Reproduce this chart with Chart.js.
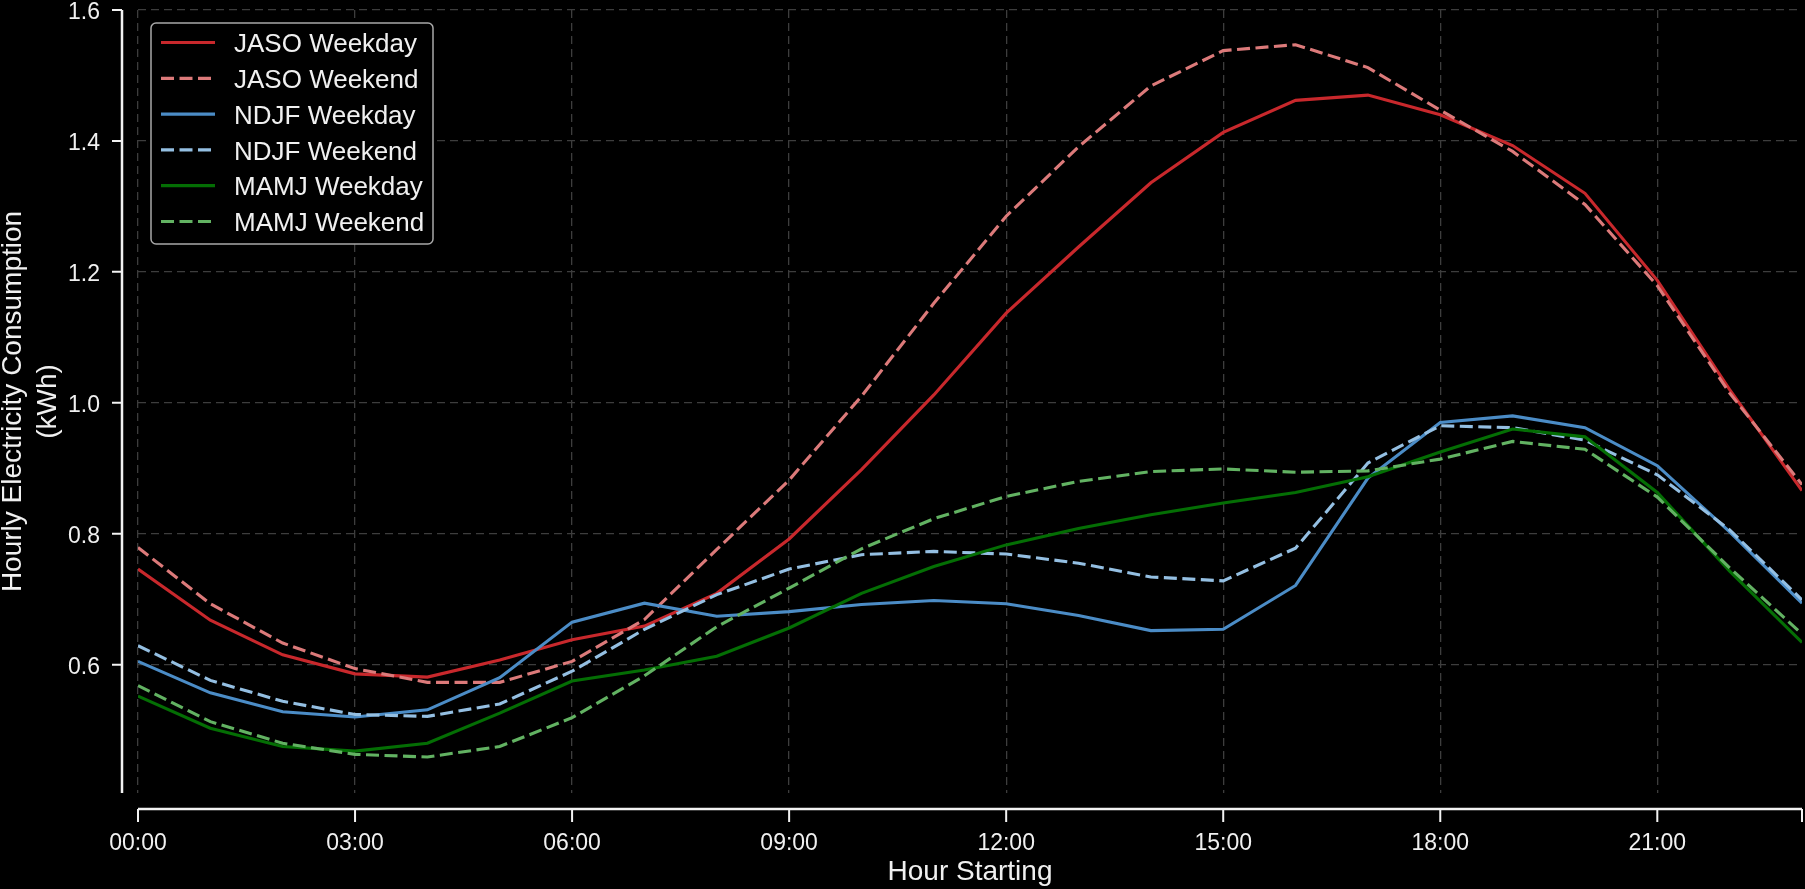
<!DOCTYPE html>
<html>
<head>
<meta charset="utf-8">
<script src="https://cdn.jsdelivr.net/npm/chart.js@4.4.1/dist/chart.umd.min.js"></script>
<style>
  html, body { margin: 0; padding: 0; background: #000; }
  #wrap { width: 1805px; height: 889px; position: relative; }
</style>
</head>
<body>
<div id="wrap"><canvas id="load"></canvas></div>
<script>
// hour of day (x values)
const hours = [0, 1, 2, 3, 4, 5, 6, 7, 8, 9, 10, 11, 12, 13, 14, 15, 16, 17, 18, 19, 20, 21, 22, 23];
const hourTicks = [0, 3, 6, 9, 12, 15, 18, 21];
const kwhTicks = [0.6, 0.8, 1.0, 1.2, 1.4, 1.6];

const seriesNames = ['JASO Weekday', 'JASO Weekend', 'NDJF Weekday', 'NDJF Weekend', 'MAMJ Weekday', 'MAMJ Weekend'];

const jasoWeekday = [0.746, 0.668, 0.615, 0.586, 0.581, 0.607, 0.638, 0.659, 0.709, 0.792, 0.898, 1.012,
                     1.137, 1.238, 1.336, 1.413, 1.462, 1.470, 1.440, 1.393, 1.320, 1.187, 1.020, 0.866];
const jasoWeekend = [0.779, 0.693, 0.633, 0.594, 0.573, 0.573, 0.605, 0.669, 0.776, 0.882, 1.010, 1.152,
                     1.285, 1.391, 1.484, 1.538, 1.547, 1.512, 1.447, 1.384, 1.303, 1.179, 1.015, 0.875];
const ndjfWeekday = [0.605, 0.557, 0.528, 0.520, 0.531, 0.580, 0.665, 0.694, 0.674, 0.681, 0.692, 0.698,
                     0.693, 0.675, 0.652, 0.654, 0.721, 0.885, 0.970, 0.980, 0.962, 0.904, 0.803, 0.694];
const ndjfWeekend = [0.629, 0.576, 0.544, 0.524, 0.521, 0.540, 0.590, 0.654, 0.707, 0.746, 0.768, 0.773,
                     0.769, 0.755, 0.734, 0.728, 0.778, 0.908, 0.965, 0.962, 0.943, 0.890, 0.806, 0.699];
const mamjWeekday = [0.552, 0.503, 0.475, 0.468, 0.480, 0.526, 0.575, 0.592, 0.613, 0.656, 0.709, 0.750,
                     0.783, 0.808, 0.829, 0.847, 0.863, 0.887, 0.925, 0.960, 0.948, 0.863, 0.743, 0.634];
const mamjWeekend = [0.568, 0.513, 0.480, 0.463, 0.459, 0.475, 0.519, 0.583, 0.658, 0.717, 0.777, 0.823,
                     0.857, 0.880, 0.895, 0.899, 0.894, 0.896, 0.914, 0.941, 0.929, 0.856, 0.748, 0.647];

const FONT = "'Liberation Sans', Arial, sans-serif";
const DASH = [13, 5.5];

function makeSet(i, values, color, dashed){
    return {
        label: seriesNames[i],
        data: values,
        borderColor: color,
        backgroundColor: color,
        borderWidth: 3.1,
        borderDash: dashed ? DASH : [],
        borderCapStyle: 'butt',
        pointRadius: 0,
        tension: 0,
        fill: false,
        order: 5 - i
    };
}

// offset spines + tick marks, drawn like a despined axes
const spines = {
    id: 'spines',
    afterDraw(chart){
        const {ctx, chartArea: a, scales} = chart;
        const off = 16;
        ctx.save();
        ctx.strokeStyle = '#f2f2f2';
        ctx.lineWidth = 2.5;
        ctx.lineCap = 'butt';
        ctx.beginPath();
        ctx.moveTo(a.left - off, a.top);
        ctx.lineTo(a.left - off, a.bottom);
        ctx.moveTo(a.left, a.bottom + off);
        ctx.lineTo(a.right, a.bottom + off);
        ctx.stroke();
        ctx.lineWidth = 2;
        ctx.beginPath();
        kwhTicks.forEach(v => {
            const py = scales.y.getPixelForValue(v);
            ctx.moveTo(a.left - off, py);
            ctx.lineTo(a.left - off - 10, py);
        });
        hourTicks.concat([23]).forEach(v => {
            const px = scales.x.getPixelForValue(v);
            ctx.moveTo(px, a.bottom + off);
            ctx.lineTo(px, a.bottom + off + 13);
        });
        ctx.stroke();
        ctx.restore();
    }
};

// legend box in the upper-left corner of the plot
const boxLegend = {
    id: 'boxLegend',
    afterDraw(chart){
        const ctx = chart.ctx;
        const bx = 151, by = 23, bw = 282, bh = 221;
        ctx.save();
        ctx.fillStyle = '#000';
        ctx.strokeStyle = '#a8a8a8';
        ctx.lineWidth = 1.5;
        ctx.beginPath();
        ctx.roundRect(bx, by, bw, bh, 5);
        ctx.fill();
        ctx.stroke();
        ctx.font = '26px ' + FONT;
        ctx.textBaseline = 'middle';
        ctx.fillStyle = '#f0f0f0';
        chart.data.datasets.forEach((ds, i) => {
            const ry = 42.5 + i * 35.8;
            ctx.strokeStyle = ds.borderColor;
            ctx.lineWidth = 3.2;
            ctx.setLineDash(ds.borderDash);
            ctx.beginPath();
            ctx.moveTo(161, ry);
            ctx.lineTo(215, ry);
            ctx.stroke();
            ctx.setLineDash([]);
            ctx.fillText(ds.label, 234, ry + 2.5);
        });
        ctx.restore();
    }
};

new Chart(document.querySelector('#load'), {
    type: 'line',
    data: {
        labels: hours,
        datasets: [
            makeSet(0, jasoWeekday, '#c8282c', false),
            makeSet(1, jasoWeekend, '#dc7a7a', true),
            makeSet(2, ndjfWeekday, '#4b8cc6', false),
            makeSet(3, ndjfWeekend, '#94bfe2', true),
            makeSet(4, mamjWeekday, '#046e04', false),
            makeSet(5, mamjWeekend, '#62b262', true)
        ]
    },
    options: {
        responsive: true,
        maintainAspectRatio: false,
        animation: false,
        layout: { padding: { top: 10, right: 3, left: 0, bottom: 0 } },
        plugins: { legend: { display: false }, tooltip: { enabled: false } },
        scales: {
            x: {
                type: 'linear',
                min: 0,
                max: 23,
                afterBuildTicks: s => { s.ticks = hourTicks.map(v => ({ value: v })); },
                afterFit: s => { s.height = 96; s.paddingLeft = 0; s.paddingRight = 0; },
                ticks: {
                    color: '#f0f0f0',
                    font: { family: FONT, size: 23 },
                    padding: 37,
                    maxRotation: 0,
                    callback: v => String(v).padStart(2, '0') + ':00'
                },
                grid: { color: '#3d3d3d', lineWidth: 1.3, drawTicks: false },
                border: { display: false, dash: [8, 5] },
                title: {
                    display: true,
                    text: 'Hour Starting',
                    color: '#f0f0f0',
                    font: { family: FONT, size: 28, lineHeight: 1.25 },
                    padding: { top: 0, bottom: -0.8 }
                }
            },
            y: {
                min: 0.404,
                max: 1.6,
                afterBuildTicks: s => { s.ticks = kwhTicks.map(v => ({ value: v })); },
                afterFit: s => { s.width = 138; s.paddingTop = 0; s.paddingBottom = 0; },
                ticks: {
                    color: '#f0f0f0',
                    // small line height + empty first line nudges the label ~3px down
                    font: { family: FONT, size: 23, lineHeight: 0.26 },
                    padding: 38,
                    callback: v => ['', v.toFixed(1)]
                },
                grid: { color: '#3d3d3d', lineWidth: 1.3, drawTicks: false },
                border: { display: false, dash: [8, 5] },
                title: {
                    display: true,
                    text: ['Hourly Electricity Consumption', '(kWh)'],
                    color: '#f0f0f0',
                    font: { family: FONT, size: 28, lineHeight: 1.25 },
                    padding: { top: -4, bottom: 0 }
                }
            }
        }
    },
    plugins: [spines, boxLegend]
});
</script>
</body>
</html>
